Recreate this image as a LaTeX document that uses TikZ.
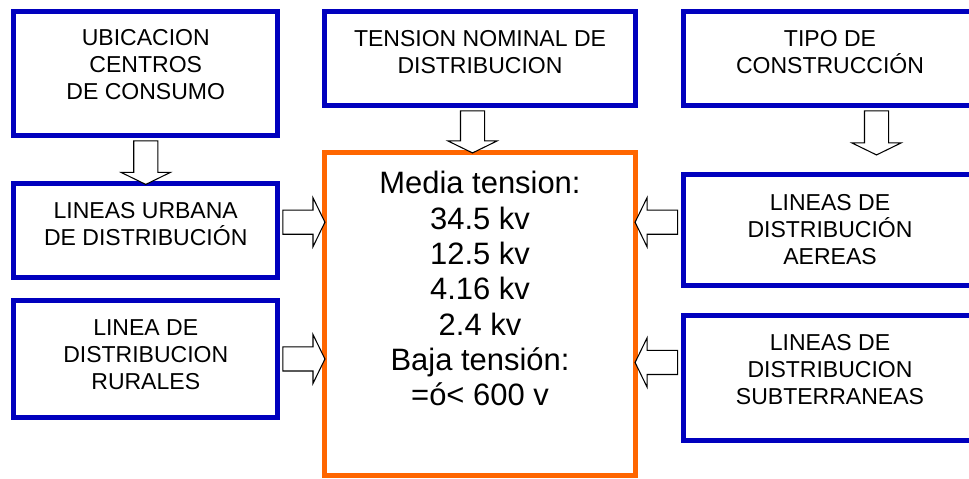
\documentclass[tikz,border=0pt]{standalone}
\usepackage{fontspec}
\setmainfont{Liberation Sans}
\usetikzlibrary{positioning,calc,shapes.arrows}
\definecolor{boxblue}{RGB}{0,0,190}
\definecolor{boxorange}{RGB}{255,102,0}
\newcommand\blockarrow[2]{%
  \path let \p1=(#1), \p2=(#2), \n1={veclen(\x2-\x1,\y2-\y1)}, \n2={atan2(\y2-\y1,\x2-\x1)} in
    node[barrow, minimum height=\n1, rotate=\n2] at ({(\x1+\x2)/2},{(\y1+\y2)/2}) {};}
\begin{document}
\begin{tikzpicture}[
  bluebox/.style={draw=boxblue, line width=0.1cm, minimum width=5.27cm},
  rightbox/.style={draw=boxblue, line width=0.1cm, minimum width=5.88cm},
  txt/.style={align=center, inner sep=0, font=\fontsize{13.1}{15.3}\selectfont},
  bigtxt/.style={align=center, inner sep=0, font=\fontsize{17.6}{20.1}\selectfont},
  barrow/.style={single arrow, draw=black, fill=white, line width=0.6pt, inner xsep=0, inner ysep=0.23cm, outer sep=0,
    single arrow head extend=0.25cm, single arrow tip angle=128, single arrow head indent=0}]
  \useasboundingbox (0,0) rectangle (19.38,9.56);
  \node[bluebox, minimum height=2.47cm] (ubicacion) at (2.915,8.085) {};
  \node[bluebox, minimum width=6.22cm, minimum height=1.87cm] (tension) at (9.6,8.385) {};
  \node[rightbox, minimum height=1.87cm] (tipo) at (16.6,8.385) {};
  \node[bluebox, minimum height=1.87cm] (urbana) at (2.915,4.945) {};
  \node[bluebox, minimum height=2.34cm] (rural) at (2.915,2.38) {};
  \node[rightbox, minimum height=2.21cm] (aerea) at (16.6,4.955) {};
  \node[rightbox, minimum height=2.5cm] (subte) at (16.6,2.0) {};
  \node[draw=boxorange, line width=0.1cm, minimum width=6.22cm, minimum height=6.46cm] (centro) at (9.6,3.28) {};

  \node[txt, below=0.4cm of ubicacion.north] (ubicacion-t) {UBICACION\\CENTROS\\DE CONSUMO};
  \node[txt, below=0.41cm of tension.north] (tension-t) {TENSION NOMINAL DE\\DISTRIBUCION};
  \node[txt, below=0.41cm of tipo.north] (tipo-t) {TIPO DE\\CONSTRUCCIÓN};
  \node[txt, below=0.41cm of urbana.north] (urbana-t) {LINEAS URBANA\\DE DISTRIBUCIÓN};
  \node[txt, below=0.43cm of rural.north] (rural-t) {LINEA DE\\DISTRIBUCION\\RURALES};
  \node[txt, below=0.44cm of aerea.north] (aerea-t) {LINEAS DE\\DISTRIBUCIÓN\\AEREAS};
  \node[txt, below=0.42cm of subte.north] (subte-t) {LINEAS DE\\DISTRIBUCION\\SUBTERRANEAS};
  \node[bigtxt, below=0.42cm of centro.north] (centro-t)
    {Media tension:\\34.5 kv\\12.5 kv\\4.16 kv\\2.4 kv\\Baja tensión:\\=ó< 600 v};

  \coordinate (t1) at ($(tension.south)+(-0.15,0)$);
  \coordinate (c1) at ($(tipo.south)+(0.93,0)$);
  \coordinate (c2) at ($(c1)+(0,-0.88)$);
  \coordinate (u1) at ($(urbana.east)+(0,0.17)$);
  \coordinate (a1) at ($(aerea.west)+(0,0.16)$);
  \coordinate (s1) at ($(subte.west)+(0,0.31)$);
  \blockarrow{ubicacion.south}{urbana.north}
  \blockarrow{t1}{t1 |- centro.north}
  \blockarrow{c1}{c2}
  \blockarrow{u1}{u1 -| centro.west}
  \blockarrow{rural.east}{rural.east -| centro.west}
  \blockarrow{a1}{a1 -| centro.east}
  \blockarrow{s1}{s1 -| centro.east}
\end{tikzpicture}
\end{document}
